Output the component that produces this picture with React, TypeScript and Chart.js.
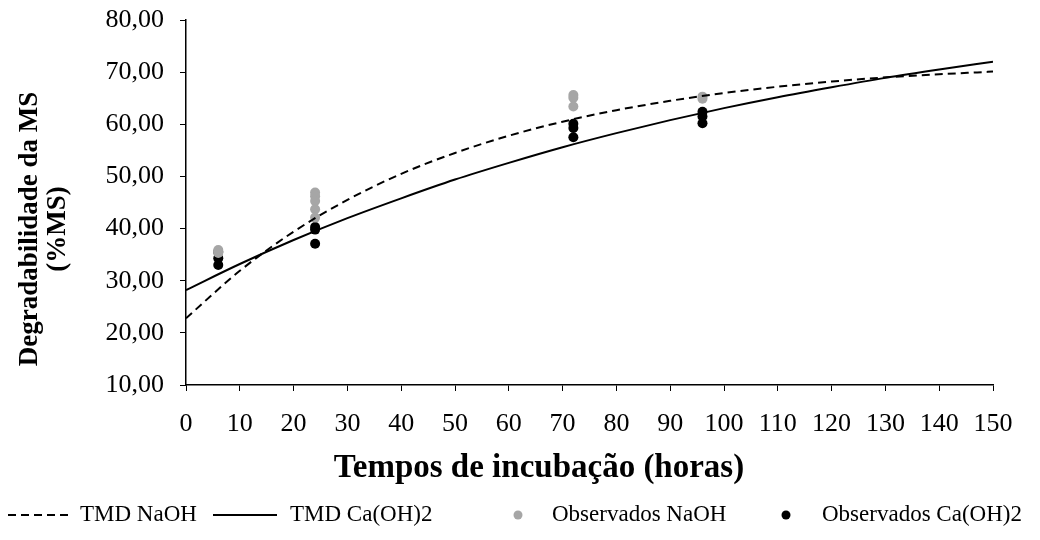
import React, { useEffect, useRef } from "react";
import { Chart, registerables } from "chart.js";

Chart.register(...registerables);

// Fitted curves
const curveTimes = [0, 10, 20, 30, 40, 50, 60, 70, 80, 90, 100, 110, 120, 130, 140, 150];
const tmdNaOH = [22.8, 31.9, 39.4, 45.5, 50.5, 54.5, 57.8, 60.5, 62.7, 64.5, 66.0, 67.2, 68.2, 69.0, 69.6, 70.1];
const tmdCaOH = [28.2, 33.2, 37.8, 42.0, 45.8, 49.4, 52.6, 55.6, 58.3, 60.8, 63.1, 65.2, 67.1, 68.9, 70.5, 72.0];

// Observed values
const obsNaOHTimes = [6, 6, 6, 24, 24, 24, 24, 24, 72, 72, 72, 96, 96];
const obsNaOHValues = [35.9, 35.6, 35.3, 46.9, 46.2, 45.3, 43.7, 42.1, 65.6, 65.1, 63.4, 65.3, 64.9];
const obsCaOHTimes = [6, 6, 6, 24, 24, 24, 72, 72, 72, 96, 96, 96];
const obsCaOHValues = [35.5, 34.3, 33.0, 40.3, 39.8, 37.1, 60.1, 59.3, 57.5, 62.4, 61.5, 60.2];

const seriesNames = ["TMD NaOH", "TMD Ca(OH)2", "Observados NaOH", "Observados Ca(OH)2"];

const xTitle = "Tempos de incubação (horas)";
const yTitle = ["Degradabilidade da MS", "(%MS)"];

const FONT = '"Liberation Serif", "Times New Roman", serif';

const pairs = (xs: number[], ys: number[]) => xs.map((x, i) => ({ x, y: ys[i] }));

const titlesAndLegendPlugin = {
  id: "titlesAndLegend",
  afterDraw(chart: any) {
    const ctx: CanvasRenderingContext2D = chart.ctx;
    ctx.save();
    ctx.fillStyle = "#000";
    ctx.textAlign = "center";
    ctx.textBaseline = "middle";

    // Axis titles
    ctx.font = `bold 33px ${FONT}`;
    ctx.fillText(xTitle, 539, 468);
    ctx.save();
    ctx.translate(0, 229);
    ctx.rotate(-Math.PI / 2);
    ctx.font = `bold 27px ${FONT}`;
    ctx.fillText(yTitle[0], 0, 30);
    ctx.fillText(yTitle[1], 0, 58);
    ctx.restore();

    // Legend
    const y = chart.height - 25;
    const sampleX = [8, 213, 518, 786];
    const textX = [80, 290, 552, 822];
    ctx.font = `23px ${FONT}`;
    ctx.textAlign = "left";
    chart.data.datasets.forEach((ds: any, i: number) => {
      if (ds.showLine) {
        ctx.beginPath();
        ctx.strokeStyle = ds.borderColor;
        ctx.lineWidth = ds.borderWidth;
        ctx.setLineDash(ds.borderDash || []);
        ctx.moveTo(sampleX[i], y);
        ctx.lineTo(sampleX[i] + 64, y);
        ctx.stroke();
        ctx.setLineDash([]);
      } else {
        ctx.beginPath();
        ctx.fillStyle = ds.backgroundColor;
        ctx.arc(sampleX[i], y, 4.5, 0, Math.PI * 2);
        ctx.fill();
      }
      ctx.fillStyle = "#000";
      ctx.fillText(ds.label, textX[i], y);
    });
    ctx.restore();
  },
};

export default function App() {
  const canvasRef = useRef<HTMLCanvasElement | null>(null);

  useEffect(() => {
    document.body.style.margin = "0";
    const canvas = canvasRef.current;
    if (!canvas) return;
    const chart = new Chart(canvas, {
      type: "scatter",
      data: {
        datasets: [
          {
            label: seriesNames[0],
            data: pairs(curveTimes, tmdNaOH),
            showLine: true,
            borderColor: "#000",
            borderWidth: 2,
            borderDash: [8, 5],
            pointRadius: 0,
            cubicInterpolationMode: "monotone",
          },
          {
            label: seriesNames[1],
            data: pairs(curveTimes, tmdCaOH),
            showLine: true,
            borderColor: "#000",
            borderWidth: 2,
            pointRadius: 0,
            cubicInterpolationMode: "monotone",
          },
          {
            label: seriesNames[2],
            data: pairs(obsNaOHTimes, obsNaOHValues),
            showLine: false,
            backgroundColor: "#a6a6a6",
            borderWidth: 0,
            pointRadius: 5,
          },
          {
            label: seriesNames[3],
            data: pairs(obsCaOHTimes, obsCaOHValues),
            showLine: false,
            backgroundColor: "#000",
            borderWidth: 0,
            pointRadius: 5,
          },
        ],
      },
      options: {
        animation: false,
        responsive: false,
        events: [],
        layout: { padding: { left: 0, right: 47, top: 20, bottom: 52 } },
        plugins: {
          legend: { display: false },
          tooltip: { enabled: false },
        },
        scales: {
          x: {
            type: "linear",
            min: 0,
            max: 150,
            afterFit: (scale: any) => {
              scale.height = 103;
            },
            ticks: {
              stepSize: 10,
              autoSkip: false,
              maxRotation: 0,
              color: "#000",
              padding: 18,
              font: { family: FONT, size: 26 },
            },
            grid: {
              drawOnChartArea: false,
              drawTicks: true,
              tickLength: 6,
              color: "#000",
              lineWidth: 1,
            },
            border: { display: true, color: "#000", width: 1.5 },
            title: { display: false },
          },
          y: {
            type: "linear",
            min: 10,
            max: 80,
            afterFit: (scale: any) => {
              scale.width = 186;
              scale.paddingTop = 0;
              scale.paddingBottom = 0;
            },
            ticks: {
              stepSize: 10,
              color: "#000",
              padding: 16,
              font: { family: FONT, size: 26 },
              callback: (v: any) => Number(v).toFixed(2).replace(".", ","),
            },
            grid: {
              drawOnChartArea: false,
              drawTicks: true,
              tickLength: 6,
              color: "#000",
              lineWidth: 1,
            },
            border: { display: true, color: "#000", width: 1.5 },
            title: { display: false },
          },
        },
      },
      plugins: [titlesAndLegendPlugin],
    } as any);
    return () => chart.destroy();
  }, []);

  return (
    <div style={{ width: 1040, height: 540 }}>
      <canvas ref={canvasRef} width={1040} height={540} style={{ display: "block" }} />
    </div>
  );
}
